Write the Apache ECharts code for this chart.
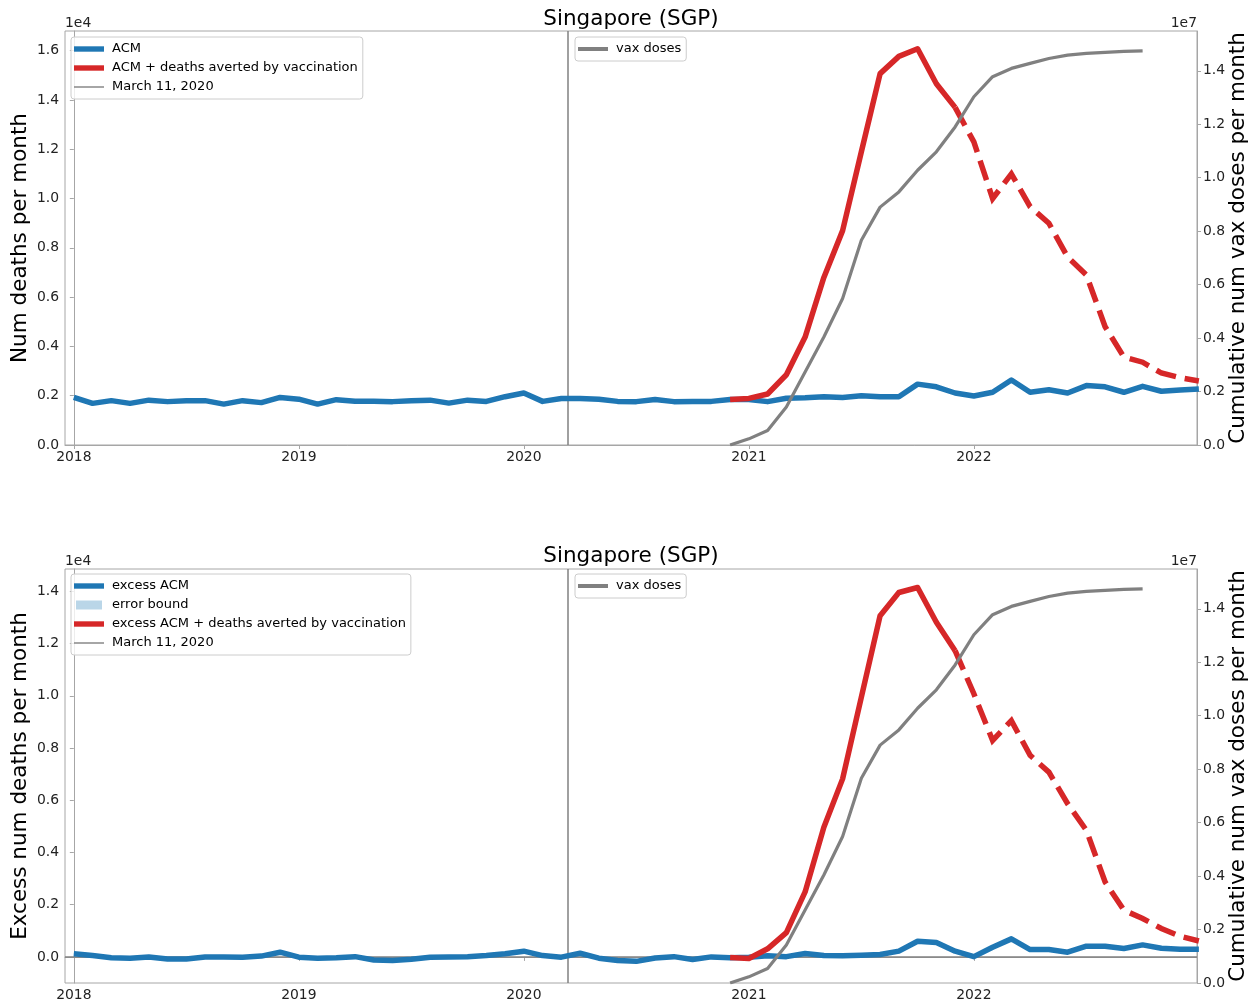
<!DOCTYPE html>
<html><head><meta charset="utf-8">
<script src="https://cdn.jsdelivr.net/npm/echarts@6/dist/echarts.min.js"></script>
<style>html,body{margin:0;padding:0;background:#fff}#chart{width:1256px;height:1002px}</style>
</head><body><div id="chart"></div>
<script>
// ---------- DATA ----------
const months = [
 '2018-01','2018-02','2018-03','2018-04','2018-05','2018-06','2018-07','2018-08','2018-09','2018-10','2018-11','2018-12',
 '2019-01','2019-02','2019-03','2019-04','2019-05','2019-06','2019-07','2019-08','2019-09','2019-10','2019-11','2019-12',
 '2020-01','2020-02','2020-03','2020-04','2020-05','2020-06','2020-07','2020-08','2020-09','2020-10','2020-11','2020-12',
 '2021-01','2021-02','2021-03','2021-04','2021-05','2021-06','2021-07','2021-08','2021-09','2021-10','2021-11','2021-12',
 '2022-01','2022-02','2022-03','2022-04','2022-05','2022-06','2022-07','2022-08','2022-09','2022-10','2022-11','2022-12',
 '2023-01'];
const yearTicks = ['2018','2019','2020','2021','2022'];
const yearTickMonths = ['2018-01','2019-01','2020-01','2021-01','2022-01'];

// Top panel: all-cause mortality per month
const acm = [
 1930,1690,1800,1690,1820,1760,1800,1800,1660,1800,1720,1930,
 1860,1660,1840,1780,1780,1760,1800,1820,1700,1820,1770,1960,
 2110,1770,1890,1890,1860,1770,1760,1850,1760,1770,1770,1850,
 1850,1760,1900,1920,1960,1930,2000,1960,1960,2470,2360,2110,
 1990,2140,2640,2140,2240,2110,2410,2360,2140,2380,2180,2230,
 2270];
// ACM + deaths averted by vaccination, from avertedStart
const avertedStart = '2020-12';
const projectionStart = '2021-12';
const acmAverted = [1850,1890,2070,2850,4380,6800,8700,11900,15070,15770,16080,14660,13700,
 12300,10000,11000,9670,9000,7630,6900,4800,3570,3360,2920,2730,2600];

// Bottom panel: excess ACM
const excessAcm = [
 120,50,-30,-50,0,-80,-80,0,0,-10,30,180,
 -10,-50,-30,10,-120,-140,-90,-10,0,10,50,120,
 220,50,-10,140,-50,-140,-170,-40,10,-100,0,-30,
 -10,40,10,130,50,40,60,90,220,600,550,220,
 10,370,690,280,280,180,410,410,320,460,330,290,
 290];
const excessErr = [
 40,45,42,48,44,46,43,47,45,44,46,50,
 42,45,47,44,46,48,45,43,44,46,47,49,
 52,48,46,50,47,45,46,44,45,47,46,45,
 46,47,45,48,46,47,49,50,52,58,56,54,
 52,55,60,56,55,54,57,56,55,58,56,55,
 55];
const excessAverted = [-20,-60,310,930,2490,4970,6820,9950,13070,13960,14150,12820,11730,
 10080,8290,9050,7720,7080,5870,4850,2870,1790,1470,1090,790,610];

// Cumulative vaccine doses, from vaxStart
const vaxStart = '2020-12';
const vaxDoses = [0,230000,540000,1420000,2730000,4040000,5480000,7660000,8900000,9470000,10280000,10970000,
 11900000,13030000,13780000,14090000,14280000,14460000,14590000,14650000,14690000,14730000,14750000];

const pandemicDate = '2020-03-11';
const pandemicLabel = 'March 11, 2020';
const countryTitle = 'Singapore (SGP)';

const leftTicksTop = [0,2000,4000,6000,8000,10000,12000,14000,16000];
const leftTicksBottom = [0,2000,4000,6000,8000,10000,12000,14000];
const rightTicks = [0,2000000,4000000,6000000,8000000,10000000,12000000,14000000];

// ---------- BUILD ----------
const FONT = 'DejaVu Sans';
const BLUE = '#1f77b4', RED = '#d62728', GRAY = '#808080', FRAME = '#a6a6a6', BAND = '#bad6e8';
const idx = m => months.indexOf(m);
const pd = pandemicDate.split('-').map(Number);
const daysInMonth = new Date(pd[0], pd[1], 0).getDate();
const pandemicX = idx(pandemicDate.slice(0,7)) + (pd[2]-1)/daysInMonth;
const yearIdx = yearTickMonths.map(idx);

const series0 = arr => arr.map((v,i)=>[i, v]);
const seriesFrom = (start, arr) => arr.map((v,i)=>[idx(start)+i, v]);
const projOff = idx(projectionStart) - idx(avertedStart);
const splitSolid = arr => seriesFrom(avertedStart, arr.slice(0, projOff+1));
const splitDash = arr => seriesFrom(projectionStart, arr.slice(projOff));

function xAxisFor(g){
  return {type:'value', gridIndex:g, min:-0.47, max:59.9,
    axisLine:{show:true, lineStyle:{color:FRAME, width:1}},
    splitLine:{show:false},
    axisTick:{show:true, length:4, lineStyle:{color:FRAME}, customValues:yearIdx},
    axisLabel:{customValues:yearIdx, formatter:v=>yearTicks[yearIdx.indexOf(v)], fontSize:13.9, fontFamily:FONT, color:'#222', margin:5}};
}
function yAxisFor(g, pos, min, max, ticks, scale, name, gap){
  return {type:'value', gridIndex:g, position:pos, min:min, max:max,
    name:name, nameLocation:'middle', nameGap:gap, nameRotate:90, nameMoveOverlap:false,
    nameTextStyle:{fontSize:21.5, fontFamily:FONT, color:'#000'},
    axisLine:{show:true, lineStyle:{color:FRAME, width:1}},
    splitLine:{show:false},
    axisTick:{show:true, length:4, lineStyle:{color:FRAME}, customValues:ticks},
    axisLabel:{customValues:ticks, formatter:v=>(v/scale).toFixed(1), fontSize:13.9, fontFamily:FONT, color:'#222', margin:6}};
}

const ICON_THICK = 'path://M0,0 M30,14 M0,4.3 L30,4.3 L30,9.7 L0,9.7 Z';
const ICON_MED = 'path://M0,0 M30,14 M0,5 L30,5 L30,9 L0,9 Z';
const ICON_THIN = 'path://M0,0 M30,14 M0,6.3 L30,6.3 L30,7.7 L0,7.7 Z';
const ICON_PATCH = 'path://M0,0 M30,14 M2,2.5 L28,2.5 L28,11.5 L2,11.5 Z';

function legendBox(left, top, items){
  return {show:true, orient:'vertical', left:left, top:top, selectedMode:false,
    itemWidth:30, itemHeight:14, itemGap:5, padding:[5,5,5,3],
    backgroundColor:'rgba(255,255,255,0.8)', borderColor:'#cccccc', borderWidth:1, borderRadius:3,
    itemStyle:{borderWidth:0},
    textStyle:{fontSize:13, fontFamily:FONT, color:'#000', padding:[0,0,0,3]},
    data:items.map(([n,icon,c])=>({name:n, icon:icon, itemStyle:{color:c, borderWidth:0}}))};
}

const lineBase = (name, xi, yi, data, color, width, z, extra) => Object.assign({
  type:'line', name:name, xAxisIndex:xi, yAxisIndex:yi, data:data, showSymbol:false, symbol:'none',
  lineStyle:{color:color, width:width, join:'round', cap:'butt'}, itemStyle:{color:color},
  z:z, silent:true, animation:false, clip:true}, extra||{});

const bandData = excessAcm.map((v,i)=>[i, v - excessErr[i], v + excessErr[i]]);

const option = {
  animation:false,
  textStyle:{fontFamily:FONT},
  grid:[
    {left:65, top:31, width:1132, height:414, show:true, borderColor:FRAME, borderWidth:1, backgroundColor:'transparent', containLabel:false, outerBoundsMode:'none'},
    {left:65, top:569, width:1132, height:414, show:true, borderColor:FRAME, borderWidth:1, backgroundColor:'transparent', containLabel:false, outerBoundsMode:'none'}
  ],
  xAxis:[xAxisFor(0), xAxisFor(1)],
  yAxis:[
    yAxisFor(0,'left',0,16800,leftTicksTop,1e4,'Num deaths per month',34),
    yAxisFor(0,'right',0,15490000,rightTicks,1e7,'Cumulative num vax doses per month',30),
    yAxisFor(1,'left',-1000,14860,leftTicksBottom,1e4,'Excess num deaths per month',34),
    yAxisFor(1,'right',0,15490000,rightTicks,1e7,'Cumulative num vax doses per month',30)
  ],
  legend:[
    legendBox(71,37,[['ACM',ICON_THICK,BLUE],['ACM + deaths averted by vaccination',ICON_THICK,RED],[pandemicLabel,ICON_THIN,GRAY]]),
    legendBox(575,37,[['vax doses',ICON_MED,GRAY]]),
    legendBox(71,574,[['excess ACM',ICON_THICK,BLUE],['error bound',ICON_PATCH,BAND],['excess ACM + deaths averted by vaccination',ICON_THICK,RED],[pandemicLabel,ICON_THIN,GRAY]]),
    legendBox(575,574,[['vax doses',ICON_MED,GRAY]])
  ],
  graphic:[
    {type:'text', x:631, y:19, style:{text:countryTitle, font:'21.5px "DejaVu Sans"', fill:'#000', textAlign:'center', textVerticalAlign:'middle', align:'center', verticalAlign:'middle'}},
    {type:'text', x:631, y:556, style:{text:countryTitle, font:'21.5px "DejaVu Sans"', fill:'#000', textAlign:'center', textVerticalAlign:'middle', align:'center', verticalAlign:'middle'}},
    {type:'text', x:65, y:23, style:{text:'1e4', font:'13.9px "DejaVu Sans"', fill:'#222', textAlign:'left', textVerticalAlign:'middle', align:'left', verticalAlign:'middle'}},
    {type:'text', x:1197, y:23, style:{text:'1e7', font:'13.9px "DejaVu Sans"', fill:'#222', textAlign:'right', textVerticalAlign:'middle', align:'right', verticalAlign:'middle'}},
    {type:'text', x:65, y:561, style:{text:'1e4', font:'13.9px "DejaVu Sans"', fill:'#222', textAlign:'left', textVerticalAlign:'middle', align:'left', verticalAlign:'middle'}},
    {type:'text', x:1197, y:561, style:{text:'1e7', font:'13.9px "DejaVu Sans"', fill:'#222', textAlign:'right', textVerticalAlign:'middle', align:'right', verticalAlign:'middle'}}
  ],
  series:[
    // top panel
    lineBase(pandemicLabel,0,0,[],GRAY,1.5,1,{markLine:{silent:true, symbol:'none', z:1, label:{show:false},
      lineStyle:{color:GRAY, width:1.5, type:'solid'}, data:[{xAxis:pandemicX}]}}),
    lineBase('ACM',0,0,series0(acm),BLUE,5.5,2),
    lineBase('ACM + deaths averted by vaccination',0,0,splitSolid(acmAverted),RED,5.5,3),
    lineBase('ACM + deaths averted (projected)',0,0,splitDash(acmAverted),RED,5.5,3,
      {lineStyle:{color:RED, width:5.5, type:[20.6,8.9], join:'miter', cap:'butt'}}),
    lineBase('vax doses',0,1,seriesFrom(vaxStart,vaxDoses),GRAY,3.2,4),
    // bottom panel
    lineBase(pandemicLabel,1,2,[],GRAY,1.5,1,{markLine:{silent:true, symbol:'none', z:1, label:{show:false},
      lineStyle:{color:GRAY, width:1.5, type:'solid'}, data:[{xAxis:pandemicX},{yAxis:0}]}}),
    {type:'custom', name:'error bound', xAxisIndex:1, yAxisIndex:2, coordinateSystem:'cartesian2d',
      data:bandData, encode:{x:0, y:[1,2]}, silent:true, animation:false, clip:true, z:1,
      itemStyle:{color:BAND},
      renderItem:function(params, api){
        if (params.dataIndex !== 0) return null;
        const pts = [];
        for (let i=0;i<bandData.length;i++) pts.push(api.coord([bandData[i][0], bandData[i][1]]));
        for (let i=bandData.length-1;i>=0;i--) pts.push(api.coord([bandData[i][0], bandData[i][2]]));
        return {type:'polygon', shape:{points:pts}, style:{fill:BAND, stroke:null}};
      }},
    lineBase('excess ACM',1,2,series0(excessAcm),BLUE,5.5,2),
    lineBase('excess ACM + deaths averted by vaccination',1,2,splitSolid(excessAverted),RED,5.5,3),
    lineBase('excess ACM + deaths averted (projected)',1,2,splitDash(excessAverted),RED,5.5,3,
      {lineStyle:{color:RED, width:5.5, type:[20.6,8.9], join:'miter', cap:'butt'}}),
    lineBase('vax doses',1,3,seriesFrom(vaxStart,vaxDoses),GRAY,3.2,4)
  ]
};
const chart = echarts.init(document.getElementById('chart'), null, {renderer:'canvas'});
chart.setOption(option);
</script></body></html>
